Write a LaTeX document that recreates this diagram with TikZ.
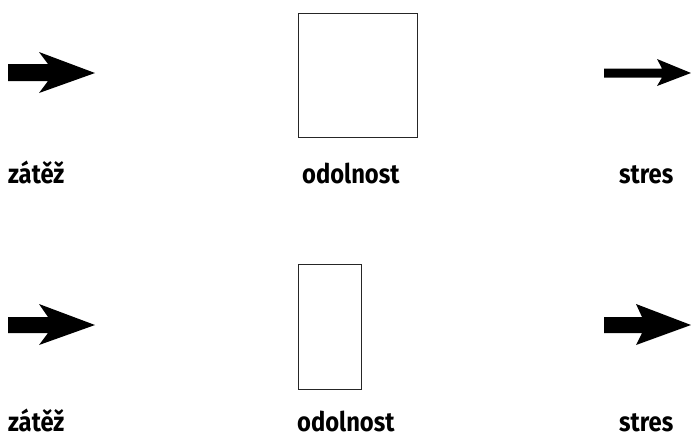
\documentclass[tikz,border=0pt]{standalone}
\usepackage{fontspec}
\setmainfont{Fira Sans}[FakeStretch=0.88]
\begin{document}
\begin{tikzpicture}[x=1pt,y=-1pt,
  lbl/.style={anchor=base west,inner sep=0pt,font=\fontsize{27}{30}\selectfont\bfseries},
  box/.style={draw=black!85,line width=0.9pt},
  arr/.style={fill=black,draw=none}]
\useasboundingbox (0,0) rectangle (691,434);
% top row
\fill[arr] (8,64) -- (48,64) -- (39,52) -- (95,73) -- (39,93) -- (48,81) -- (8,81) -- cycle;
\draw[box] (298,13) rectangle (417,137);
\fill[arr] (604,68.5) -- (662,68.5) -- (657,59) -- (691,73) -- (657,86) -- (662,77.5) -- (604,77.5) -- cycle;
\node[lbl] (z1) at (8,183) {zátěž};
\node[lbl] (o1) at (302,183) {odolnost};
\node[lbl] (s1) at (619,183) {stres};
% bottom row
\fill[arr] (8,317) -- (48,317) -- (39,304) -- (95,325) -- (39,345) -- (48,333) -- (8,333) -- cycle;
\draw[box] (298,264) rectangle (361,389);
\fill[arr] (604,317) -- (642,317) -- (636,304) -- (691,325) -- (636,345) -- (642,333) -- (604,333) -- cycle;
\node[lbl] (z2) at (8,431) {zátěž};
\node[lbl] (o2) at (297,431) {odolnost};
\node[lbl] (s2) at (619,431) {stres};
\end{tikzpicture}
\end{document}
